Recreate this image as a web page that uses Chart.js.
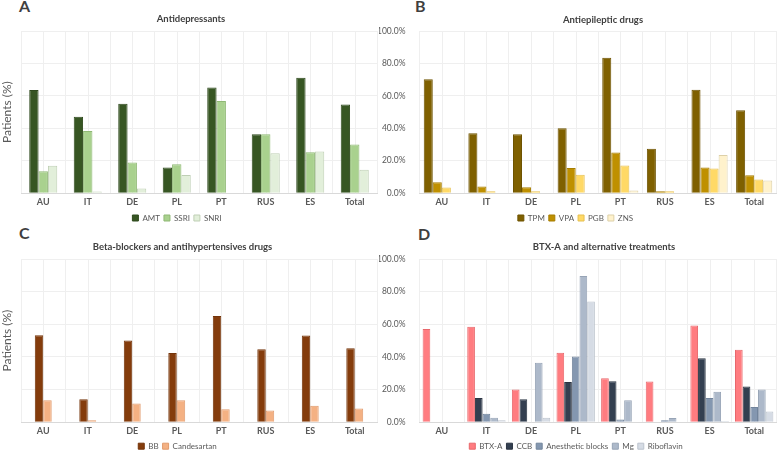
<!DOCTYPE html>
<html>
<head>
<meta charset="utf-8">
<script src="https://cdn.jsdelivr.net/npm/chart.js@4.4.1/dist/chart.umd.min.js"></script>
<style>
  body { margin:0; width:778px; height:450px; overflow:hidden; background:#fff; position:relative; font-family:Lato, sans-serif; }
  .panel { position:absolute; }
  .letter { position:absolute; font-weight:bold; font-size:16px; color:#3f3f3f; line-height:16px; }
</style>
</head>
<body>
<div class="letter" style="left:19px;top:-2px">A</div>
<div class="letter" style="left:415px;top:-2px">B</div>
<div class="letter" style="left:19px;top:225px">C</div>
<div class="letter" style="left:418px;top:226px">D</div>

<div class="panel" style="left:0;top:0"><canvas id="chartA" width="389" height="233"></canvas></div>
<div class="panel" style="left:379px;top:0"><canvas id="chartB" width="399" height="233"></canvas></div>
<div class="panel" style="left:0;top:225px"><canvas id="chartC" width="389" height="237"></canvas></div>
<div class="panel" style="left:379px;top:225px"><canvas id="chartD" width="399" height="237"></canvas></div>

<script>
var countries = ["AU", "IT", "DE", "PL", "PT", "RUS", "ES", "Total"];

// A - antidepressants (% patients)
var amt  = [63.6, 47.1, 55.1, 15.8, 65.2, 36.4, 71.2, 54.7];
var ssri = [13.6, 38.3, 18.9, 17.9, 56.8, 36.4, 25.3, 30.0];
var snri = [16.9, 1.0, 2.9, 11.2, 0, 24.7, 25.7, 14.4];

// B - antiepileptic drugs
var tpm = [70.2, 37.0, 36.4, 40.1, 83.5, 27.4, 63.8, 51.2];
var vpa = [6.8, 4.1, 3.7, 15.6, 25.1, 1.2, 15.8, 11.1];
var pgb = [3.5, 1.2, 1.2, 11.3, 17.1, 1.2, 15.2, 8.4];
var zns = [0, 0, 0, 0, 1.6, 0, 23.5, 7.8];

// C - beta-blockers and antihypertensives
var bb          = [53.3, 14.0, 50.0, 42.4, 65.0, 44.7, 53.1, 45.3];
var candesartan = [13.4, 1.2, 11.5, 13.4, 8.0, 7.2, 10.1, 8.4];

// D - BTX-A and alternative treatments
var btxa       = [57.1, 58.5, 20.1, 42.5, 27.0, 24.9, 59.2, 44.4];
var ccb        = [0, 14.9, 14.1, 24.7, 25.1, 0, 39.2, 21.8];
var anesthetic = [0, 5.2, 0, 40.2, 1.7, 1.2, 14.9, 9.3];
var mg         = [0, 2.7, 36.5, 89.6, 13.5, 2.5, 18.7, 20.1];
var riboflavin = [0, 1.2, 2.7, 73.9, 0, 0, 0.8, 6.6];

var yMax = 100;
var yStep = 20;

var gridColor = "#efefef";
var textColor = "#595959";
var fontFam = "Lato, sans-serif";

// extra vertical grid lines at category centres + moving title/legend
var panelTweaks = {
  id: "panelTweaks",
  afterLayout: function(chart, args, opts) {
    if (opts.titleCenter != null && chart.titleBlock) {
      var t = chart.titleBlock;
      var d = opts.titleCenter - (t.left + t.right) / 2;
      t.left += d; t.right += d;
    }
    if (opts.legendCenter != null && chart.legend) {
      var l = chart.legend;
      var d2 = opts.legendCenter - (l.left + l.right) / 2;
      l.left += d2; l.right += d2;
      l.top += opts.legendDy; l.bottom += opts.legendDy;
    }
  },
  beforeDatasetsDraw: function(chart) {
    var x = chart.scales.x, area = chart.chartArea, ctx = chart.ctx;
    ctx.save();
    ctx.strokeStyle = gridColor;
    ctx.lineWidth = 1;
    for (var i = 0; i < countries.length; i++) {
      var px = Math.round(x.getPixelForTick(i)) + 0.5;
      ctx.beginPath();
      ctx.moveTo(px, area.top);
      ctx.lineTo(px, area.bottom);
      ctx.stroke();
    }
    ctx.restore();
  }
};

function ds(label, data, fill, border) {
  return { label: label, data: data, backgroundColor: fill, borderColor: border, borderWidth: 1, borderSkipped: "bottom" };
}

function makeChart(id, title, datasets, cfg) {
  var yAxis = {
    min: 0, max: yMax,
    afterFit: function(s) { s.width = cfg.axisWidth; },
    grid: { color: gridColor, drawTicks: false },
    border: { display: false },
    ticks: {
      display: cfg.showTicks,
      stepSize: yStep,
      padding: cfg.tickPad,
      color: textColor,
      font: { family: fontFam, size: 8.5 },
      callback: function(v) { return v.toFixed(1) + "%"; }
    },
    title: {
      display: cfg.yTitle,
      text: "Patients (%)",
      color: textColor,
      padding: { top: 0, bottom: 0 },
      font: { family: fontFam, size: 12 }
    }
  };
  return new Chart(document.getElementById(id), {
    type: "bar",
    data: { labels: countries, datasets: datasets },
    plugins: [panelTweaks],
    options: {
      responsive: false,
      animation: false,
      categoryPercentage: cfg.catPct,
      barPercentage: 1,
      layout: { padding: { left: 0, right: cfg.padRight, top: 0, bottom: 0 } },
      scales: {
        x: {
          grid: { color: gridColor, offset: true, drawTicks: false },
          border: { color: "#d9d9d9" },
          ticks: { padding: 3.5, color: textColor, font: { family: fontFam, size: 9, weight: "bold" } }
        },
        y: yAxis
      },
      plugins: {
        title: {
          display: true, text: title, color: "#404040",
          font: { family: fontFam, size: 9.5, weight: "bold" },
          padding: { top: cfg.titleTop, bottom: cfg.titleBottom }
        },
        legend: {
          position: "bottom",
          labels: {
            boxWidth: 6, boxHeight: 6, padding: 4,
            color: textColor, font: { family: fontFam, size: 8 }
          }
        },
        tooltip: { enabled: false },
        panelTweaks: { titleCenter: cfg.titleCenter, legendCenter: cfg.legendCenter, legendDy: cfg.legendDy }
      }
    }
  });
}

makeChart("chartA", "Antidepressants", [
  ds("AMT", amt, "#375623", "#2f4a1e"),
  ds("SSRI", ssri, "#a9d18e", "#8fb874"),
  ds("SNRI", snri, "#e2efda", "#bfcfb5")
], { axisWidth: 21, showTicks: false, tickPad: 0, yTitle: true, catPct: 0.63, padRight: 12,
     titleTop: 12.8, titleBottom: 6.8, legendDy: -1, titleCenter: 191, legendCenter: 177 });

makeChart("chartB", "Antiepileptic drugs", [
  ds("TPM", tpm, "#7f6000", "#6e5300"),
  ds("VPA", vpa, "#bf9000", "#a67d00"),
  ds("PGB", pgb, "#ffd966", "#e6c050"),
  ds("ZNS", zns, "#fff2cc", "#ddd0a8")
], { axisWidth: 40.5, showTicks: true, tickPad: 14, yTitle: false, catPct: 0.81, padRight: 1.5,
     titleTop: 13.8, titleBottom: 5.8, legendDy: -1, titleCenter: 224, legendCenter: 196.5 });

makeChart("chartC", "Beta-blockers and antihypertensives drugs", [
  ds("BB", bb, "#843c0c", "#74340a"),
  ds("Candesartan", candesartan, "#f4b183", "#e09a6c")
], { axisWidth: 21, showTicks: false, tickPad: 0, yTitle: true, catPct: 0.38, padRight: 12,
     titleTop: 16.5, titleBottom: 6.1, legendDy: -1.8, titleCenter: 182.5, legendCenter: 177.5 });

makeChart("chartD", "BTX-A and alternative treatments", [
  ds("BTX-A", btxa, "#ff7c80", "#e8686c"),
  ds("CCB", ccb, "#333f50", "#2a3442"),
  ds("Anesthetic blocks", anesthetic, "#8497b0", "#72849c"),
  ds("Mg", mg, "#adb9ca", "#97a4b6"),
  ds("Riboflavin", riboflavin, "#d6dce5", "#bcc3cd")
], { axisWidth: 40.5, showTicks: true, tickPad: 14, yTitle: false, catPct: 0.86, padRight: 1.5,
     titleTop: 15.8, titleBottom: 6.8, legendDy: -1.8, titleCenter: 225, legendCenter: 197 });
</script>
</body>
</html>
